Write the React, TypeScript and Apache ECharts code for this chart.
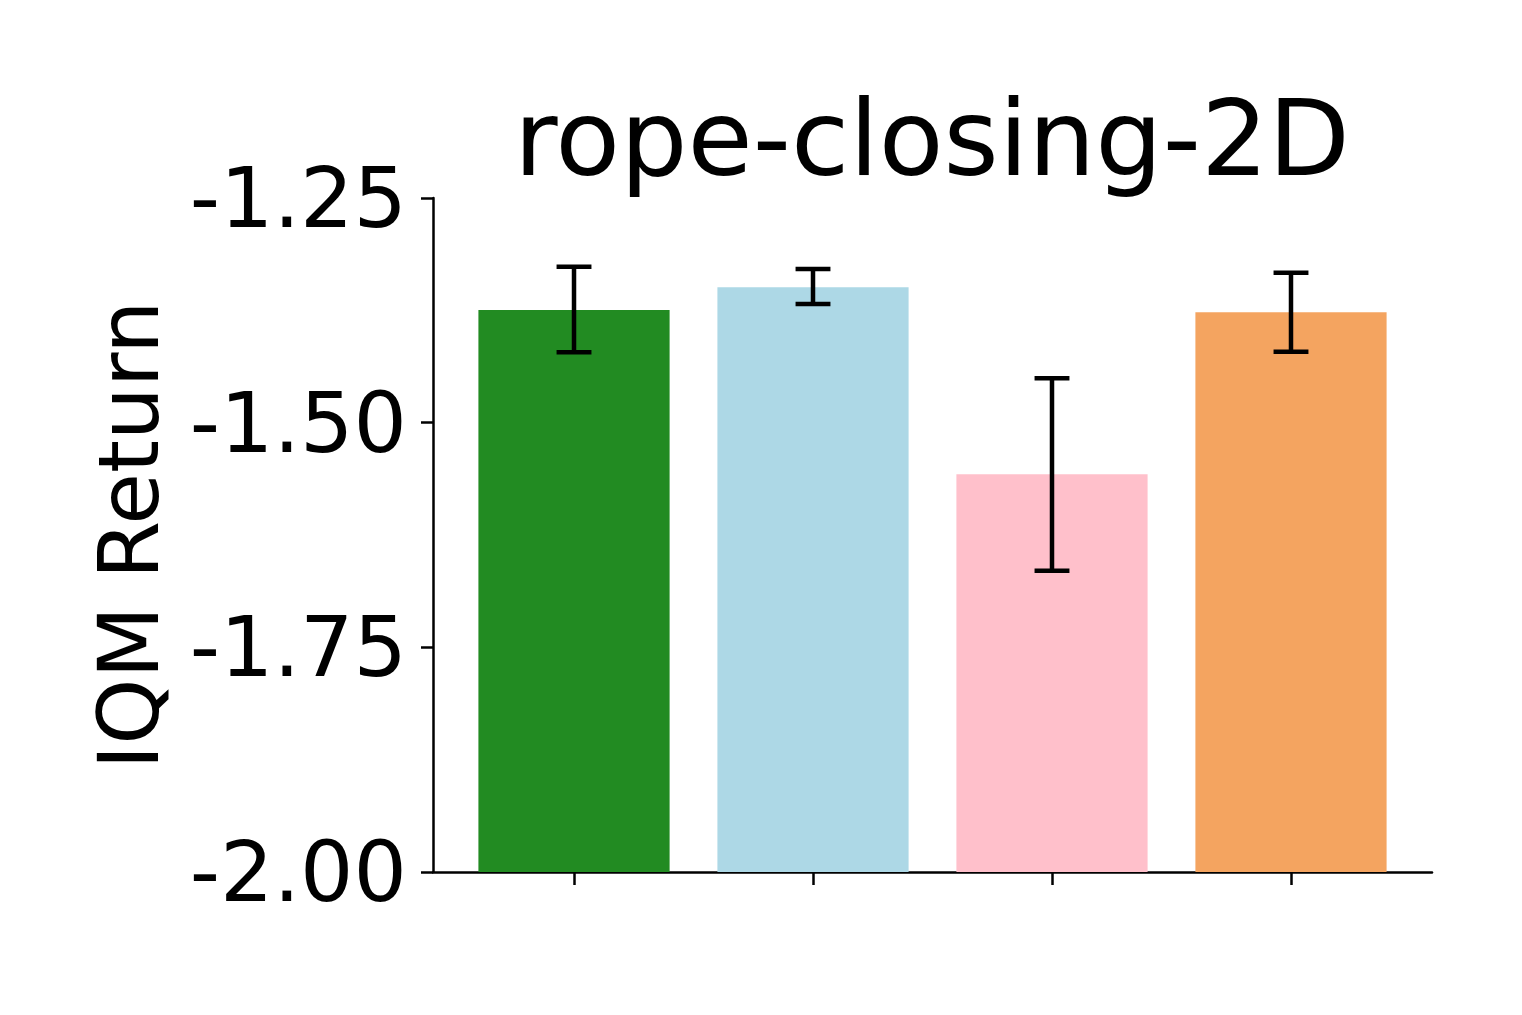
import React, { useEffect, useRef } from "react";
import * as echarts from "echarts";

const categories = ["A", "B", "C", "D"];
const values = [-1.3746, -1.3494, -1.5575, -1.3772];
const errLower = [-1.4217, -1.3679, -1.6647, -1.421];
const errUpper = [-1.3264, -1.329, -1.4506, -1.3331];
const colors = ["#228B22", "#ADD8E6", "#FFC0CB", "#F4A460"];
const yTicks = [-2.0, -1.75, -1.5, -1.25];
const titleText = "rope-closing-2D";
const yName = "IQM Return";

const FONT = "DejaVu Sans";
const Y_MIN = -2.0;
const Y_MAX = -1.25;
const BAR_HALF = 0.4;
const CAP_HALF = 0.073;

export default function App() {
  const ref = useRef<HTMLDivElement>(null);
  useEffect(() => {
    document.body.style.margin = "0";
    const chart = echarts.init(ref.current!, null, { renderer: "svg" });
    const barData = values.map((v, i) => [i, v]);
    const errData = values.map((v, i) => [i, errLower[i], errUpper[i]]);
    chart.setOption({
      animation: false,
      backgroundColor: "#ffffff",
      title: {
        text: titleText,
        left: 927,
        top: 80,
        textAlign: "center",
        textStyle: { fontFamily: FONT, fontSize: 106, fontWeight: "normal", color: "#000" },
      },
      grid: { left: 433, right: 90, top: 198, bottom: 143, containLabel: false },
      xAxis: {
        type: "value",
        min: -0.59,
        max: 3.59,
        axisLine: { show: true, onZero: false, lineStyle: { color: "#000", width: 2.5 } },
        axisTick: { show: true, length: 13, customValues: [0, 1, 2, 3], lineStyle: { color: "#000", width: 2.5 } },
        axisLabel: { show: false },
        splitLine: { show: false },
      },
      yAxis: {
        type: "value",
        min: Y_MIN,
        max: Y_MAX,
        interval: 0.25,
        name: yName,
        nameLocation: "middle",
        nameGap: 262,
        nameTextStyle: { fontFamily: FONT, fontSize: 84, color: "#000" },
        axisLine: { show: true, onZero: false, lineStyle: { color: "#000", width: 2.5 } },
        axisTick: { show: true, length: 12, customValues: yTicks, lineStyle: { color: "#000", width: 2.5 } },
        axisLabel: {
          fontFamily: FONT,
          fontSize: 84,
          color: "#000",
          margin: 26,
          customValues: yTicks,
          formatter: (v: number) => v.toFixed(2),
        },
        splitLine: { show: false },
      },
      series: [
        {
          type: "custom",
          data: barData,
          renderItem: (params: any, api: any) => {
            const x = api.value(0);
            const y = api.value(1);
            const p1 = api.coord([x - BAR_HALF, y]);
            const p2 = api.coord([x + BAR_HALF, Y_MIN]);
            return {
              type: "rect",
              shape: { x: p1[0], y: p1[1], width: p2[0] - p1[0], height: p2[1] - p1[1] },
              style: { fill: colors[params.dataIndex] },
            };
          },
          z: 2,
        },
        {
          type: "custom",
          data: errData,
          renderItem: (params: any, api: any) => {
            const x = api.value(0);
            const lo = api.coord([x, api.value(1)]);
            const hi = api.coord([x, api.value(2)]);
            const capL = api.coord([x - CAP_HALF, api.value(1)]);
            const capR = api.coord([x + CAP_HALF, api.value(1)]);
            const hw = (capR[0] - capL[0]) / 2;
            const st = { stroke: "#000", lineWidth: 4.5 };
            return {
              type: "group",
              children: [
                { type: "line", shape: { x1: lo[0], y1: lo[1], x2: hi[0], y2: hi[1] }, style: st },
                { type: "line", shape: { x1: lo[0] - hw, y1: lo[1], x2: lo[0] + hw, y2: lo[1] }, style: st },
                { type: "line", shape: { x1: hi[0] - hw, y1: hi[1], x2: hi[0] + hw, y2: hi[1] }, style: st },
              ],
            };
          },
          z: 3,
        },
      ],
    });
    return () => chart.dispose();
  }, []);
  return <div ref={ref} style={{ width: 1522, height: 1015 }} />;
}
